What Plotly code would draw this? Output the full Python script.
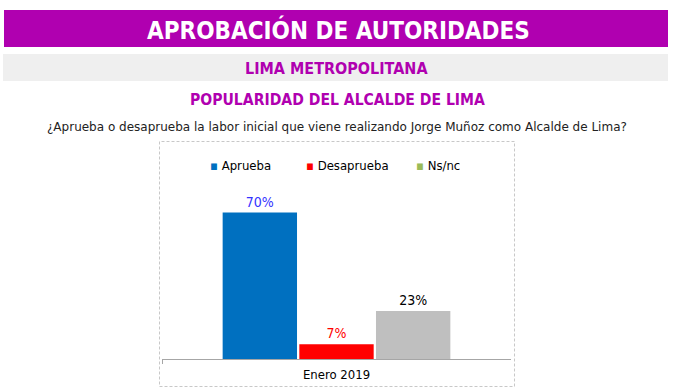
import plotly.graph_objects as go

W, H = 673, 390
categories = ["Enero 2019"]
series_names = ["Aprueba", "Desaprueba", "Ns/nc"]
aprueba = [70]
desaprueba = [7]
nsnc = [23]
values = [aprueba, desaprueba, nsnc]
bar_colors = ["#0070C0", "#FF0000", "#BFBFBF"]
label_colors = ["#3333FF", "#FF0000", "#000000"]
legend_colors = ["#0070C0", "#FF0000", "#9BBB59"]

PURPLE = "#B000B0"
FONT = "DejaVu Sans Condensed"

def px(x):
    return x / W

def py(y):
    return 1 - y / H

fig = go.Figure()
for name, vals, c, lc in zip(series_names, values, bar_colors, label_colors):
    fig.add_trace(go.Bar(
        x=categories, y=vals, name=name, marker=dict(color=c, line=dict(width=0)),
        text=[f"{v}%" for v in vals], textposition="outside",
        textfont=dict(color=lc, size=14, family=FONT),
        cliponaxis=False, showlegend=False,
    ))

shapes = [
    dict(type="rect", xref="paper", yref="paper", x0=px(4), x1=px(668), y0=py(47), y1=py(10),
         fillcolor=PURPLE, line=dict(width=0), layer="below"),
    dict(type="rect", xref="paper", yref="paper", x0=px(3), x1=px(668), y0=py(81), y1=py(54),
         fillcolor="#EFEFEF", line=dict(width=0), layer="below"),
    dict(type="rect", xref="paper", yref="paper", x0=px(159.5), x1=px(514.5), y0=py(386.5), y1=py(141.5),
         fillcolor="rgba(0,0,0,0)", line=dict(width=1, color="#C8C8C8", dash="3px,2px"), layer="below"),
]

def ann(text, x, y, size, color, family=FONT, xanchor="center"):
    return dict(text=text, x=px(x), y=py(y), xref="paper", yref="paper",
                xanchor=xanchor, yanchor="middle", showarrow=False,
                font=dict(size=size, color=color, family=family))

annotations = [
    ann("<b>APROBACIÓN DE AUTORIDADES</b>", 338, 30, 24, "white"),
    ann("<b>LIMA METROPOLITANA</b>", 336, 68, 16, PURPLE),
    ann("<b>POPULARIDAD DEL ALCALDE DE LIMA</b>", 337, 100, 15.6, PURPLE),
    ann("¿Aprueba o desaprueba la labor inicial que viene realizando Jorge Muñoz como Alcalde de Lima?",
        337, 127, 12, "#222222", family="DejaVu Sans"),
]

legend_x = [208, 304, 414]
for lx, name, c in zip(legend_x, series_names, legend_colors):
    annotations.append(ann(f"<span style='color:{c}'>▪</span> {name}", lx, 165, 13, "#000000",
                           xanchor="left"))

fig.update_layout(
    width=W, height=H, autosize=False,
    margin=dict(l=0, r=0, t=0, b=0),
    paper_bgcolor="white", plot_bgcolor="rgba(0,0,0,0)",
    barmode="group", bargap=0.341, bargroupgap=0.03,
    shapes=shapes, annotations=annotations,
    xaxis=dict(domain=[px(162), px(511)], showline=True, linecolor="#A6A6A6", linewidth=1,
               ticks="outside", tickson="boundaries", ticklen=4, tickcolor="#A6A6A6",
               ticklabelstandoff=3,
               tickfont=dict(size=13, color="#000000", family=FONT), showgrid=False),
    yaxis=dict(domain=[py(359), py(200)], range=[0, 76], visible=False, showgrid=False),
)

fig.write_html("out.html", config={"displayModeBar": False},
               post_script="document.body.style.margin='0';document.body.style.padding='0';")
